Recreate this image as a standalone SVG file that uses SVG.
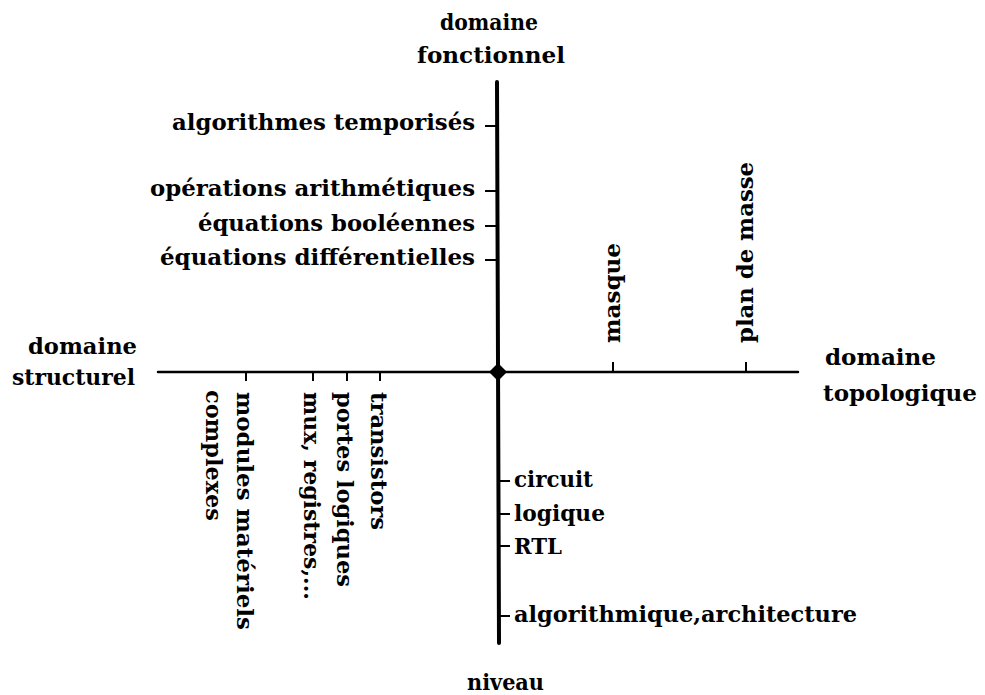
<svg xmlns="http://www.w3.org/2000/svg" width="985" height="695" viewBox="0 0 985 695">
<style>
text{font-family:"DejaVu Serif","Liberation Serif",serif;font-weight:bold;font-size:22px;fill:#000}
.ax{stroke:#000;fill:none;stroke-linecap:round}
.tk{stroke:#000;stroke-width:2;fill:none}
</style>
<rect width="985" height="695" fill="#fff"/>
<g id="connectors">
<line class="ax" x1="497" y1="82" x2="499" y2="643" stroke-width="4"/>
<line class="ax" x1="158" y1="372" x2="798" y2="372" stroke-width="2.5"/>
<polygon points="498,363 507,372 498,381 489,372" fill="#000"/>
</g>
<g id="axis-fonctionnel">
<text x="440" y="30" textLength="98" lengthAdjust="spacingAndGlyphs">domaine</text>
<text x="417" y="63" textLength="148" lengthAdjust="spacingAndGlyphs">fonctionnel</text>
</g>
<g id="axis-structurel">
<text x="28" y="354" textLength="109" lengthAdjust="spacingAndGlyphs">domaine</text>
<text x="12" y="385" textLength="123" lengthAdjust="spacingAndGlyphs">structurel</text>
</g>
<g id="axis-topologique">
<text x="825" y="365" textLength="111" lengthAdjust="spacingAndGlyphs">domaine</text>
<text x="823" y="401" textLength="154" lengthAdjust="spacingAndGlyphs">topologique</text>
</g>
<g id="axis-niveau">
<text x="467" y="690" textLength="77" lengthAdjust="spacingAndGlyphs">niveau</text>
</g>
<g id="f-algo-temp">
<line class="tk" x1="485" y1="126" x2="497" y2="126"/>
<text x="172" y="130" textLength="303" lengthAdjust="spacingAndGlyphs">algorithmes temporisés</text>
</g>
<g id="f-op-arith">
<line class="tk" x1="485" y1="191" x2="497" y2="191"/>
<text x="150" y="196" textLength="325" lengthAdjust="spacingAndGlyphs">opérations arithmétiques</text>
</g>
<g id="f-eq-bool">
<line class="tk" x1="485" y1="226" x2="497" y2="226"/>
<text x="198" y="231" textLength="277" lengthAdjust="spacingAndGlyphs">équations booléennes</text>
</g>
<g id="f-eq-diff">
<line class="tk" x1="485" y1="260" x2="497" y2="260"/>
<text x="160" y="265" textLength="315" lengthAdjust="spacingAndGlyphs">équations différentielles</text>
</g>
<g id="n-circuit">
<line class="tk" x1="498" y1="481" x2="510" y2="481"/>
<text x="514" y="487" textLength="79" lengthAdjust="spacingAndGlyphs">circuit</text>
</g>
<g id="n-logique">
<line class="tk" x1="498" y1="514" x2="510" y2="514"/>
<text x="514" y="521" textLength="91" lengthAdjust="spacingAndGlyphs">logique</text>
</g>
<g id="n-rtl">
<line class="tk" x1="498" y1="546" x2="510" y2="546"/>
<text x="514" y="554" textLength="48" lengthAdjust="spacingAndGlyphs">RTL</text>
</g>
<g id="n-algo-arch">
<line class="tk" x1="498" y1="616" x2="510" y2="616"/>
<text x="514" y="622" textLength="343" lengthAdjust="spacingAndGlyphs">algorithmique,architecture</text>
</g>
<g id="t-masque">
<line class="tk" x1="613" y1="362" x2="613" y2="372"/>
<text transform="translate(620,343) rotate(-90)" textLength="100" lengthAdjust="spacingAndGlyphs">masque</text>
</g>
<g id="t-plan">
<line class="tk" x1="746" y1="362" x2="746" y2="372"/>
<text transform="translate(753,343) rotate(-90)" textLength="181" lengthAdjust="spacingAndGlyphs">plan de masse</text>
</g>
<g id="s-modules">
<line class="tk" x1="246" y1="372" x2="246" y2="381"/>
<text transform="translate(237,392) rotate(90)" textLength="238" lengthAdjust="spacingAndGlyphs">modules matériels</text>
<text transform="translate(206,390) rotate(90)" textLength="131" lengthAdjust="spacingAndGlyphs">complexes</text>
</g>
<g id="s-mux">
<line class="tk" x1="313" y1="372" x2="313" y2="381"/>
<text transform="translate(304,392) rotate(90)" textLength="208" lengthAdjust="spacingAndGlyphs">mux, registres,...</text>
</g>
<g id="s-portes">
<line class="tk" x1="347" y1="372" x2="347" y2="381"/>
<text transform="translate(337,392) rotate(90)" textLength="195" lengthAdjust="spacingAndGlyphs">portes logiques</text>
</g>
<g id="s-transistors">
<line class="tk" x1="380" y1="372" x2="380" y2="381"/>
<text transform="translate(371,392) rotate(90)" textLength="138" lengthAdjust="spacingAndGlyphs">transistors</text>
</g>
</svg>
